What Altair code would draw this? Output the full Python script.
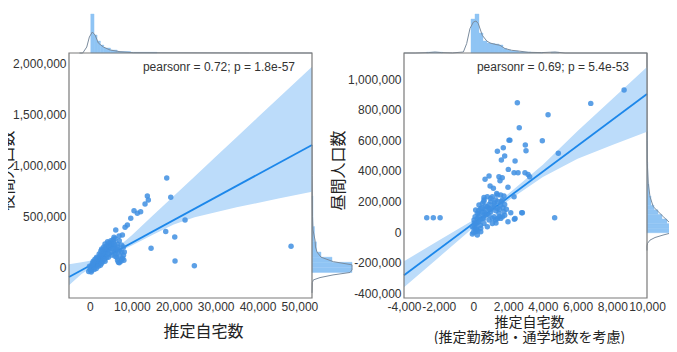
import altair as alt
import pandas as pd

# ---------------- data ----------------
# Left panel: 推定自宅数 (x) vs 夜間人口数 (y)
L_PTS_X = [18330, 19290, 22700, 18090, 20240, 14590, 20310, 24920, 48000,
           13700, 13940, 13150, 12100, 11310, 10520, 9740, 8930, 8380, 7740, 6160, 6950, 5750,
           -300, 0, 200, 400, 600, 800, 1000, 1200, 1400, 1600, 1800, 2000, 2200, 2400, 2600,
           2800, 3000, 3200, 3400, 3600, 3800, 4000, 4200, 4400, 4600, 4800, 5000, 5200, 5400,
           5600, 5800, 6000, 6200, 6400, 6600, 6800, 7000, 7400, 7800, 8000, 7600, 7000, 6600,
           5000, 4000, 3000, 2000, 1500, 2500, 3500, 4500, 5500, 6500, 7000, 6000, 5000, 4500,
           3800, 3000, 2500, 1800, 1000, 500, -100, 8200, 8000, 7500,
           3000, 3500, 4000, 4500, 5000, 5500, 4200, 3600, 2800, 2200, 1600, 1200, 800, 600,
           2600, 3300, 5800, 6300, 6800, 7200, 7600, 8100, 1000, 300, 2000, 2800, 3600, 4400,
           5200, 6000]
L_PTS_Y = [876000, 686700, 465000, 351700, 297800, 187000, 62700, 16650, 206700,
           699000, 660000, 621000, 546000, 530000, 555000, 481000, 415000, 393000, 317000, 366000, 307000, 295000,
           -40000, -20000, -5000, -30000, 10000, 20000, 0, 30000, 45000, 20000, 60000, 70000, 50000, 90000, 80000,
           110000, 100000, 130000, 120000, 150000, 140000, 170000, 160000, 190000, 180000, 210000, 200000, 230000, 220000,
           250000, 190000, 160000, 130000, 100000, 70000, 50000, 45000, 60000, 90000, 120000, 150000, 170000, 200000,
           150000, 100000, 60000, 30000, -10000, 20000, 80000, 130000, 180000, 230000, 260000, 280000, 260000, 240000,
           200000, 170000, 120000, 90000, 50000, 20000, 10000, 150000, 200000, 220000,
           140000, 180000, 210000, 220000, 240000, 270000, 250000, 230000, 180000, 130000, 100000, 80000, 60000, 40000,
           160000, 200000, 230000, 180000, 150000, 110000, 80000, 70000, -20000, -45000, 10000, 40000, 60000, 100000,
           120000, 110000]

# Right panel: 推定自宅数(推定勤務地・通学地数を考慮) (x) vs 昼間人口数 (y)
R_PTS_X = [2530, 4300, 2640, 2050, 2100, 3970, 2990, 3030, 1380, 1720, 1800, 1610, 2400, 4890,
           2010, 2340, 2570, 2970, 3150, 3240, 670, 900, 1470, 1660, 1530, 960, 1150, 1990, 1340,
           1570, 1760, 2340, 610, 2820, 2150, 2400, 1990, 1570, 1380, -2690, -2310, -1920, 4680,
           6760, 8680, 2780, 2360,
           -60, 35, 130, 225, 320, 420, 515, 610, 800, 1000, 1190, 1380, 1570, 1670, 1470, 1190,
           900, 610, 420, 130, 800, 1000, 710, 515, 320, 1090, 1280, 1380, 900, 610, 225, 35, -60,
           130, 320, 1760, 1670, 1280, 1090, 800, 225, 420, 0, 100, 200, 300, 500, 700, 900, 1100,
           1300, 1500, 600, 400, 250,
           200, 400, 600, 800, 1000, 1200, 1400, 1600, 1800, 1700, 1500, 1300, 1100, 900, 700,
           500, 300, 100, 50, 150, 600, 1000, 1900, 1800]
R_PTS_Y = [845000, 767000, 682000, 601000, 601000, 597000, 569000, 532000, 528000, 551000, 497000,
           471000, 464000, 515000, 410000, 388000, 388000, 388000, 377000, 362000, 345000, 366000,
           362000, 355000, 336000, 301000, 286000, 293000, 253000, 242000, 236000, 231000, 227000,
           127000, 127000, 90000, 68000, 90000, 90000, 94000, 94000, 94000, 94000, 841000, 928000,
           127000, 84000,
           -12000, 25000, 57000, 90000, 123000, 155000, 188000, 210000, 231000, 199000, 177000,
           155000, 177000, 210000, 123000, 101000, 79000, 57000, 25000, 3000, 166000, 133000,
           112000, 90000, 68000, 231000, 210000, 242000, 155000, 133000, 123000, 79000, 35000,
           144000, 177000, 133000, 101000, 79000, 57000, 35000, -19000, 3000, 0, 40000, 20000,
           100000, 130000, 150000, 180000, 160000, 140000, 150000, 90000, 45000, 10000,
           60000, 80000, 110000, 120000, 150000, 190000, 200000, 200000, 180000, 160000, 100000,
           60000, 90000, 110000, 170000, 160000, 140000, 100000, 60000, 20000, 200000, 220000,
           150000, 110000]

# regression lines and bootstrap CI bands
L_LINE_X = [-5000, 53000]
L_LINE_Y = [-94000, 1199000]
L_BAND_X = [-5000, -2000, 0, 3000, 6000, 10000, 15000, 20000, 25000, 30000, 35000, 40000, 45000, 53000]
L_BAND_LO = [-175000, -65000, -10000, 70000, 135000, 215000, 320000, 420000, 490000, 540000, 590000, 630000, 675000, 740000]
L_BAND_HI = [30000, 50000, 65000, 110000, 175000, 315000, 507000, 699000, 891000, 1083000, 1275000, 1467000, 1659000, 1966000]

R_LINE_X = [-4000, 10000]
R_LINE_Y = [-281000, 902000]
R_BAND_X = [-4000, -2000, 0, 1000, 2000, 4000, 6000, 8000, 10000]
R_BAND_LO = [-360000, -165000, 30000, 120000, 205000, 360000, 480000, 570000, 656000]
R_BAND_HI = [-190000, -55000, 80000, 160000, 250000, 440000, 660000, 870000, 1078000]

# marginal distributions (heights in relative density units)
LT_KDE_X = [-2500, -1720, -760, -140, 570, 1220, 2000, 3200, 4800, 7180, 10360, 21500, 38000, 53000]
LT_KDE_D = [0, 0, 6, 16, 21, 18, 10, 6, 3, 1.3, 0.3, 0.2, 0.05, 0]
LT_HIST_A = [190, 980, 1700, 2500, 3300, 4900, 6500, 9700]
LT_HIST_B = [980, 1700, 2500, 3300, 4900, 6500, 9700, 16000]
LT_HIST_D = [39, 18, 12, 8, 5, 3, 1.5, 0.7]

RT_KDE_X = [-4000, -3360, -2600, -2210, -1830, -1200, -580, -390, -200, 0, 150, 280, 510, 770, 960,
            1240, 1530, 1820, 2210, 2590, 3160, 3930, 4700, 5280, 10000]
RT_KDE_D = [0, 0, 0.4, 1, 0.4, 0.1, 1, 9.4, 24.4, 31, 32, 29.4, 17.7, 12, 10,
            8.7, 7.7, 4.4, 2.7, 2, 0.7, 0.4, 1, 0, 0]
RT_HIST_A = [-2700, -140, 90, 320, 550, 780, 1010, 1240, 1470, 1700, 1930, 2160, 2620, 3310, 4470]
RT_HIST_B = [-1780, 90, 320, 550, 780, 1010, 1240, 1470, 1700, 1930, 2160, 2620, 3310, 4000, 4930]
RT_HIST_D = [0.8, 34, 39, 20, 12, 10, 9.5, 9, 8, 4.5, 3, 2, 1, 0.5, 0.7]

LR_KDE_Y = [-250000, -150000, -123000, -100000, -74000, -50000, -25000, 0, 25000, 56000, 100000,
            150000, 200000, 268000, 366000, 500000, 700000, 900000, 1200000]
LR_KDE_D = [0, 0.3, 1.3, 8, 21, 38, 50, 55, 48, 21.3, 9, 5, 3.5, 3, 1, 0.5, 0.3, 0.1, 0]
LR_HIST_A = [-50000, 0, 50000, 100000, 150000, 250000, 400000]
LR_HIST_B = [0, 50000, 100000, 150000, 250000, 400000, 700000]
LR_HIST_D = [45, 45, 20, 9, 4.5, 2.5, 1]

RR_KDE_Y = [-120000, -90000, -73000, -52000, -35000, -19000, 0, 14000, 40000, 64000, 101000,
            166000, 231000, 319000, 449000, 600000, 900000, 1170000]
RR_KDE_D = [0, 0, 0.5, 3, 8, 16, 27, 30, 27, 22.3, 16.3, 6.3, 3, 1.3, 0.3, 0.1, 0.05, 0]
RR_HIST_A = [-4000, 26000, 56000, 86000, 116000, 146000, 176000, 236000, 316000, 456000]
RR_HIST_B = [26000, 56000, 86000, 116000, 146000, 176000, 236000, 316000, 456000, 656000]
RR_HIST_D = [32, 26, 20, 15, 11, 7, 4, 2, 0.8, 0.3]

ANNOT = ["pearsonr = 0.72; p = 1.8e-57", "pearsonr = 0.69; p = 5.4e-53"]
L_XTICKS = [0, 10000, 20000, 30000, 40000, 50000]
L_YTICKS = [0, 500000, 1000000, 1500000, 2000000]
R_XTICKS = [-4000, -2000, 0, 2000, 4000, 6000, 8000, 10000]
R_YTICKS = [-400000, -200000, 0, 200000, 400000, 600000, 800000, 1000000]

# ---------------- layout / style ----------------
W, H = 661, 336
LX_RANGE = [61, 304]
RX_RANGE = [396, 639]
Y_RANGE = [290, 45]
TOP_RANGE = [45, 5]
L_XDOM = [-5000, 53000]
L_YDOM = [-300000, 2100000]
R_XDOM = [-4000, 10000]
R_YDOM = [-430000, 1170000]

PT = "#3f8fe2"
LINE = "#1c87ea"
BAND = "#bcdcfa"
HIST = "#8fc4f4"
KDE = "#7b8c9e"
BORDER = "#7a7a7a"
LABEL_FONT = "Liberation Sans"
TITLE_FONT = "Noto Sans CJK JP"
MINUS = "replace(datum.label, '\u2212', '-')"


def sc(dom, rng, **kw):
    return alt.Scale(domain=dom, range=rng, nice=False, zero=False, **kw)


def axis_common(**kw):
    kw.setdefault("titleFontSize", 16)
    return alt.Axis(format=",d", labelExpr=MINUS, ticks=False, domain=False, grid=False,
                    labelPadding=3, labelFontSize=12, labelFont=LABEL_FONT, labelColor="#333",
                    labelOverlap=False, labelFlush=False, labelBound=False,
                    titleFont=TITLE_FONT, titleFontWeight="normal",
                    titleColor="#222", **kw)


def panel(px, py, line_x, line_y, band_x, band_lo, band_hi, xrng, xdom, ydom,
          top_kde, top_hist, side_kde, side_hist, side_rng, side_dom, side_clamp,
          note, note_x, xaxis, yaxis):
    layers = []
    xs = lambda: sc(xdom, xrng)
    ys = lambda: sc(ydom, Y_RANGE)

    # top marginal
    th = pd.DataFrame({"a": top_hist[0], "b": top_hist[1], "d": top_hist[2]})
    layers.append(alt.Chart(th).mark_rect(color=HIST, stroke=HIST, strokeWidth=0.4).encode(
        x=alt.X("a:Q", scale=xs(), axis=None), x2="b:Q",
        y=alt.Y("d:Q", scale=sc([0, 40], TOP_RANGE, clamp=True), axis=None), y2=alt.datum(0)))
    tk = pd.DataFrame({"x": top_kde[0], "d": top_kde[1]})
    layers.append(alt.Chart(tk).mark_line(color=KDE, strokeWidth=1).encode(
        x=alt.X("x:Q", scale=xs(), axis=None),
        y=alt.Y("d:Q", scale=sc([0, 40], TOP_RANGE, clamp=True), axis=None)))

    # side marginal
    sh = pd.DataFrame({"a": side_hist[0], "b": side_hist[1], "d": side_hist[2]})
    layers.append(alt.Chart(sh).mark_rect(color=HIST, stroke=HIST, strokeWidth=0.4, clip=True).encode(
        y=alt.Y("a:Q", scale=ys(), axis=None), y2="b:Q",
        x=alt.X("d:Q", scale=sc(side_dom, side_rng, clamp=side_clamp), axis=None), x2=alt.datum(0)))
    sk = pd.DataFrame({"y": side_kde[0], "d": side_kde[1]})
    layers.append(alt.Chart(sk).mark_line(color=KDE, strokeWidth=1, clip=True).encode(
        y=alt.Y("y:Q", scale=ys(), axis=None),
        x=alt.X("d:Q", scale=sc(side_dom, side_rng, clamp=side_clamp), axis=None),
        order=alt.Order("y:Q")))

    # CI band and regression line
    bd = pd.DataFrame({"x": band_x, "lo": band_lo, "hi": band_hi})
    layers.append(alt.Chart(bd).mark_area(color=BAND, opacity=1).encode(
        x=alt.X("x:Q", scale=xs(), axis=None),
        y=alt.Y("lo:Q", scale=ys(), axis=None), y2="hi:Q"))
    ld = pd.DataFrame({"x": line_x, "y": line_y})
    layers.append(alt.Chart(ld).mark_line(color=LINE, strokeWidth=1.8).encode(
        x=alt.X("x:Q", scale=xs(), axis=None),
        y=alt.Y("y:Q", scale=ys(), axis=None)))

    # points (carry the axes)
    pdf = pd.DataFrame({"x": px, "y": py})
    layers.append(alt.Chart(pdf).mark_circle(color=PT, size=30, opacity=0.85).encode(
        x=alt.X("x:Q", scale=xs(), axis=xaxis),
        y=alt.Y("y:Q", scale=ys(), axis=yaxis)))

    # frame
    fr = pd.DataFrame({"x0": [xdom[0]], "x1": [xdom[1]], "y0": [ydom[0]], "y1": [ydom[1]]})
    layers.append(alt.Chart(fr).mark_rect(fillOpacity=0, stroke=BORDER, strokeWidth=1.2).encode(
        x=alt.X("x0:Q", scale=xs(), axis=None), x2="x1:Q",
        y=alt.Y("y0:Q", scale=ys(), axis=None), y2="y1:Q"))

    # annotation
    nd = pd.DataFrame({"t": [note]})
    layers.append(alt.Chart(nd).mark_text(align="right", baseline="middle", fontSize=12,
                                          font=LABEL_FONT, color="#333").encode(
        x=alt.value(note_x), y=alt.value(59), text="t:N"))
    return layers


left = panel(
    L_PTS_X, L_PTS_Y, L_LINE_X, L_LINE_Y, L_BAND_X, L_BAND_LO, L_BAND_HI,
    LX_RANGE, L_XDOM, L_YDOM,
    (LT_KDE_X, LT_KDE_D), (LT_HIST_A, LT_HIST_B, LT_HIST_D),
    (LR_KDE_Y, LR_KDE_D), (LR_HIST_A, LR_HIST_B, LR_HIST_D), [304, 344], [0, 40], True,
    ANNOT[0], 287,
    axis_common(orient="bottom", offset=-46, values=L_XTICKS, title="推定自宅数",
                titleX=195, titleY=38, titleAlign="center", titleBaseline="alphabetic", titleAngle=0),
    axis_common(orient="left", offset=-61, values=L_YTICKS, title="夜間人口数",
                titleX=-62, titleY=162, titleAlign="center", titleBaseline="middle", titleAngle=270),
)

right = panel(
    R_PTS_X, R_PTS_Y, R_LINE_X, R_LINE_Y, R_BAND_X, R_BAND_LO, R_BAND_HI,
    RX_RANGE, R_XDOM, R_YDOM,
    (RT_KDE_X, RT_KDE_D), (RT_HIST_A, RT_HIST_B, RT_HIST_D),
    (RR_KDE_Y, RR_KDE_D), (RR_HIST_A, RR_HIST_B, RR_HIST_D), [639, 669], [0, 30], False,
    ANNOT[1], 621,
    axis_common(orient="bottom", offset=-46, values=R_XTICKS,
                title=["推定自宅数", "(推定勤務地・通学地数を考慮)"],
                titleX=521, titleY=28, titleAlign="center", titleBaseline="alphabetic",
                titleAngle=0, titleLineHeight=15, titleFontSize=14),
    axis_common(orient="left", offset=-396, values=R_YTICKS, title="昼間人口数",
                titleX=-66, titleY=162, titleAlign="center", titleBaseline="middle", titleAngle=270),
)

chart = alt.layer(*(left + right)).resolve_scale(
    x="independent", y="independent"
).properties(
    width=W, height=H, padding=0,
    autosize=alt.AutoSizeParams(type="none"),
    background="white",
).configure_view(strokeWidth=0)

chart.save("out.html", embed_options={"renderer": "svg", "actions": False})
